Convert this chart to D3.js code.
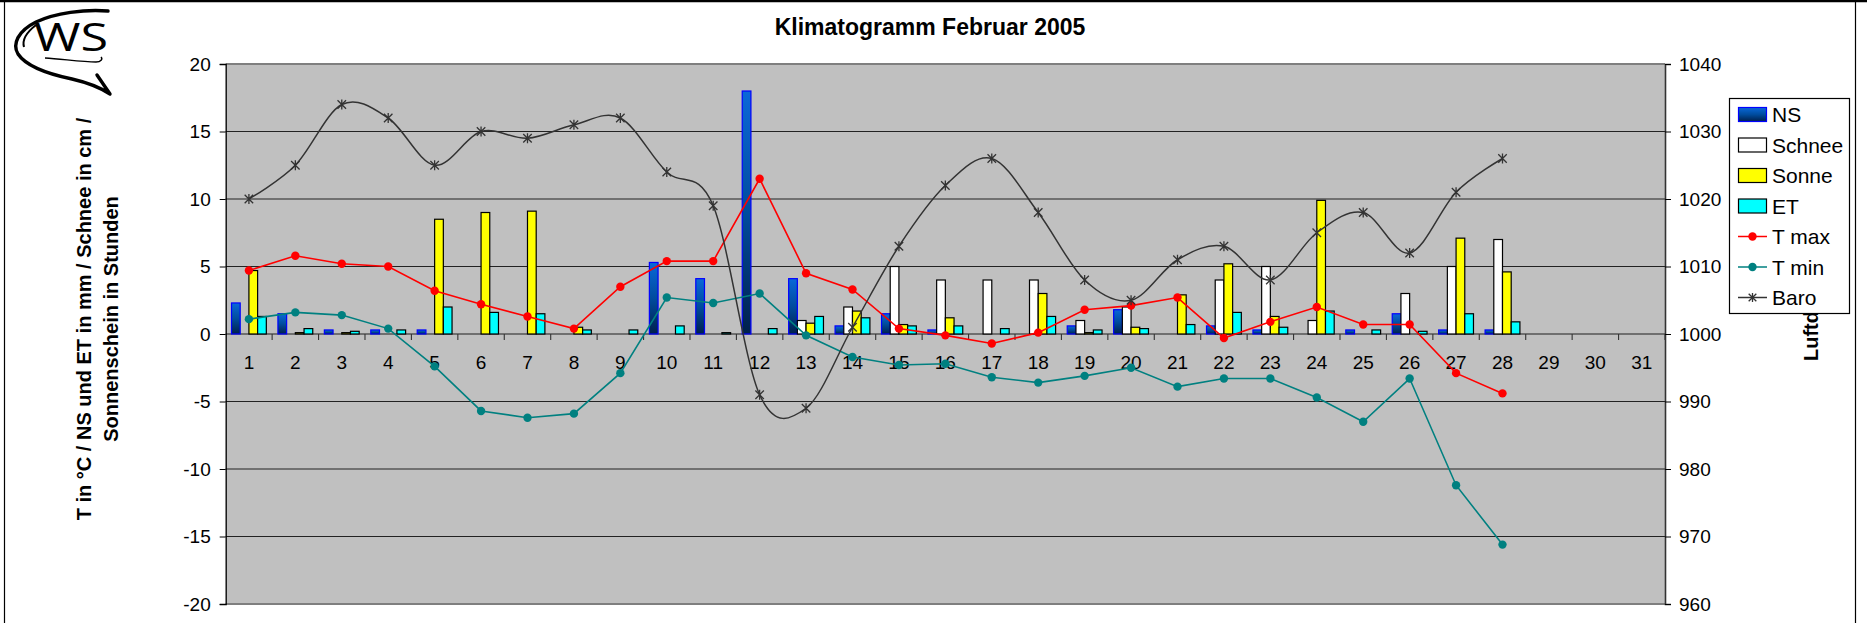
<!DOCTYPE html>
<html><head><meta charset="utf-8">
<script src="https://cdnjs.cloudflare.com/ajax/libs/d3/7.8.5/d3.min.js"></script>
<style>
html,body{margin:0;padding:0;background:#fff;}
svg{display:block;font-family:"Liberation Sans",Arial,sans-serif;}
</style></head>
<body><svg id="c" width="1867" height="623"></svg>
<script>
const days = ["1","2","3","4","5","6","7","8","9","10","11","12","13","14","15","16","17","18","19","20","21","22","23","24","25","26","27","28","29","30","31"];
const seriesNames = ["NS","Schnee","Sonne","ET"];
const NS     = [2.3,1.5,0.3,0.3,0.3,0,0,0,0,5.3,4.1,18.0,4.1,0.6,1.5,0.3,0,0,0.6,1.8,0,0.6,0.3,0,0.3,1.5,0.3,0.3];
const Schnee = [0,0,0,0,0,0,0,0,0,0,0,0,1,2,5,4,4,4,1,2,0,4,5,1,0,3,5,7];
const Sonne  = [4.7,0.1,0.1,0,8.5,9.0,9.1,0.5,0,0,0,0,0.8,1.7,0.7,1.2,0,3.0,0.1,0.5,2.9,5.2,1.3,9.9,0,0,7.1,4.6];
const ET     = [1.3,0.4,0.2,0.3,2.0,1.6,1.5,0.3,0.3,0.6,0.1,0.4,1.3,1.2,0.6,0.6,0.4,1.3,0.3,0.4,0.7,1.6,0.5,1.7,0.3,0.2,1.5,0.9];
const Tmax   = [4.7,5.8,5.2,5.0,3.2,2.2,1.3,0.4,3.5,5.4,5.4,11.5,4.5,3.3,0.4,-0.1,-0.7,0.1,1.8,2.1,2.7,-0.3,0.9,2.0,0.7,0.7,-2.9,-4.4];
const Tmin   = [1.1,1.6,1.4,0.4,-2.4,-5.7,-6.2,-5.9,-2.9,2.7,2.3,3.0,-0.1,-1.7,-2.3,-2.2,-3.2,-3.6,-3.1,-2.5,-3.9,-3.3,-3.3,-4.7,-6.5,-3.3,-11.2,-15.6];
const Baro   = [1020,1025,1034,1032,1025,1030,1029,1031,1032,1024,1019,991,989,1001,1013,1022,1026,1018,1008,1005,1011,1013,1008,1015,1018,1012,1021,1026];
const leftTicks  = [-20,-15,-10,-5,0,5,10,15,20];
const rightTicks = [960,970,980,990,1000,1010,1020,1030,1040];
const title = "Klimatogramm Februar 2005";
const yTitle1 = "T in °C / NS und ET in mm / Schnee in cm /";
const yTitle2 = "Sonnenschein in Stunden";
const y2Title = "Luftdruck in hPa";

const svg = d3.select("#c");
const L = 225.7, R = 1665, T = 64, B = 604;

const x = d3.scaleBand().domain(days).range([L, R]).padding(0);
const bw = x.bandwidth();
const xs = d3.scaleBand().domain(seriesNames).range([bw*0.125, bw*0.875]).padding(0);
const y = d3.scaleLinear().domain([-20,20]).range([B, T]);
const y2 = d3.scaleLinear().domain([960,1040]).range([B, T]);

const defs = svg.append("defs");
const g1 = defs.append("linearGradient").attr("id","nsGrad").attr("x1",0).attr("y1",0).attr("x2",0).attr("y2",1);
g1.append("stop").attr("offset","0%").attr("stop-color","#0a68d8");
g1.append("stop").attr("offset","50%").attr("stop-color","#004c9e");
g1.append("stop").attr("offset","100%").attr("stop-color","#00204c");

// outer border
svg.append("line").attr("x1",0).attr("x2",1867).attr("y1",1).attr("y2",1).attr("stroke","#000").attr("stroke-width",2.5);
svg.append("line").attr("x1",4.5).attr("x2",4.5).attr("y1",0).attr("y2",623).attr("stroke","#000").attr("stroke-width",1.2);
svg.append("line").attr("x1",1855.5).attr("x2",1855.5).attr("y1",0).attr("y2",623).attr("stroke","#000").attr("stroke-width",1.2);

// logo
const logo = svg.append("g");
logo.append("path").attr("d","M108,11 C85,9 55,13 36,22 C18,31 12,44 18,54 C26,66 48,74 72,79 C85,82 98,86 110,94 L97,75")
  .attr("fill","none").attr("stroke","#000").attr("stroke-width",3.4).attr("stroke-linejoin","round").attr("stroke-linecap","round");
logo.append("path").attr("d","M36,25 C27,32 22,40 24,47")
  .attr("fill","none").attr("stroke","#000").attr("stroke-width",2);
logo.append("path").attr("d","M45,58 C62,59 82,62 96,62 C101,62 103,59 101,57")
  .attr("fill","none").attr("stroke","#000").attr("stroke-width",1.4);
logo.append("text").attr("x",34).attr("y",51).attr("font-family","Open Sans, DejaVu Sans, sans-serif")
  .attr("font-size",39).attr("textLength",74).attr("lengthAdjust","spacingAndGlyphs").attr("fill","#000").text("WS");

// plot background
svg.append("rect").attr("x",L).attr("y",T).attr("width",R-L).attr("height",B-T).attr("fill","#c0c0c0");

// gridlines
svg.append("g").selectAll("line").data(leftTicks.filter(d=>d!==-20 && d!==20)).join("line")
  .attr("x1",L).attr("x2",R).attr("y1",d=>y(d)).attr("y2",d=>y(d))
  .attr("stroke",d=>d===0?"#555":"#222").attr("stroke-width",d=>d===0?1.6:1.1);
svg.append("line").attr("x1",L).attr("x2",R).attr("y1",T).attr("y2",T).attr("stroke","#7f7f7f").attr("stroke-width",1.8);
svg.append("line").attr("x1",L).attr("x2",R).attr("y1",B).attr("y2",B).attr("stroke","#7f7f7f").attr("stroke-width",1.8);

// category ticks
svg.append("g").selectAll("line").data(days).join("line")
  .attr("x1",(d,i)=>L+bw*(i+1)).attr("x2",(d,i)=>L+bw*(i+1))
  .attr("y1",y(0)).attr("y2",y(0)+6).attr("stroke","#333").attr("stroke-width",1.1);

// category labels
svg.append("g").selectAll("text").data(days).join("text")
  .attr("x",d=>x(d)+bw/2).attr("y",y(0)+35).attr("text-anchor","middle")
  .attr("font-size",19).attr("fill","#000").text(d=>d);

// bars
const barData = [];
const styles = {
  NS:{fill:"url(#nsGrad)",stroke:"#0000ff"},
  Schnee:{fill:"#ffffff",stroke:"#000"},
  Sonne:{fill:"#ffff00",stroke:"#000"},
  ET:{fill:"#00ffff",stroke:"#000"}
};
const seriesVals = {NS, Schnee, Sonne, ET};
seriesNames.forEach(s=>{
  seriesVals[s].forEach((v,i)=>{ if(v>0) barData.push({s, day:days[i], v}); });
});
svg.append("g").selectAll("rect").data(barData).join("rect")
  .attr("x",d=>x(d.day)+xs(d.s)).attr("width",xs.bandwidth())
  .attr("y",d=>y(d.v)).attr("height",d=>y(0)-y(d.v))
  .attr("fill",d=>styles[d.s].fill).attr("stroke",d=>styles[d.s].stroke).attr("stroke-width",1.2);

// lines
const cx = i => x(days[i]) + bw/2;
const lineT = d3.line().x((d,i)=>cx(i)).y(d=>y(d));
svg.append("path").attr("d",lineT(Tmax)).attr("fill","none").attr("stroke","#ff0000").attr("stroke-width",1.6);
svg.append("g").selectAll("circle").data(Tmax).join("circle")
  .attr("cx",(d,i)=>cx(i)).attr("cy",d=>y(d)).attr("r",4.2).attr("fill","#ff0000");
svg.append("path").attr("d",lineT(Tmin)).attr("fill","none").attr("stroke","#008080").attr("stroke-width",1.6);
svg.append("g").selectAll("circle").data(Tmin).join("circle")
  .attr("cx",(d,i)=>cx(i)).attr("cy",d=>y(d)).attr("r",4.2).attr("fill","#008080");

const lineB = d3.line().x((d,i)=>cx(i)).y(d=>y2(d)).curve(d3.curveCardinal.tension(0));
svg.append("path").attr("d",lineB(Baro)).attr("fill","none").attr("stroke","#333").attr("stroke-width",1.5);
const star = s => `M0,${-s}L0,${s}M${-s*0.85},${-s*0.85}L${s*0.85},${s*0.85}M${-s*0.85},${s*0.85}L${s*0.85},${-s*0.85}`;
svg.append("g").selectAll("path").data(Baro).join("path")
  .attr("transform",(d,i)=>`translate(${cx(i)},${y2(d)})`).attr("d",star(5))
  .attr("fill","none").attr("stroke","#333").attr("stroke-width",1.3);

// axes
const ax = svg.append("g").attr("transform",`translate(${L},0)`)
  .call(d3.axisLeft(y).tickValues(leftTicks).tickSize(6).tickPadding(9).tickFormat(d=>String(d)));
ax.select(".domain").attr("stroke","#000").attr("stroke-width",1.3);
ax.selectAll(".tick line").attr("stroke","#000");
ax.selectAll("text").attr("font-size",19).attr("font-family","Liberation Sans, Arial, sans-serif").attr("fill","#000");
const ax2 = svg.append("g").attr("transform",`translate(${R},0)`)
  .call(d3.axisRight(y2).tickValues(rightTicks).tickSize(6).tickPadding(8).tickFormat(d=>String(d)));
ax2.select(".domain").attr("stroke","#333").attr("stroke-width",1.6);
ax2.selectAll(".tick line").attr("stroke","#000");
ax2.selectAll("text").attr("font-size",19).attr("font-family","Liberation Sans, Arial, sans-serif").attr("fill","#000");

// titles
svg.append("text").attr("x",930).attr("y",35).attr("text-anchor","middle")
  .attr("font-size",23).attr("font-weight","bold").text(title);
svg.append("text").attr("transform","translate(91,319) rotate(-90)").attr("text-anchor","middle")
  .attr("font-size",20).attr("font-weight","bold").text(yTitle1);
svg.append("text").attr("transform","translate(118,319) rotate(-90)").attr("text-anchor","middle")
  .attr("font-size",20).attr("font-weight","bold").text(yTitle2);
svg.append("text").attr("transform","translate(1818,361) rotate(-90)").attr("text-anchor","start")
  .attr("font-size",20).attr("font-weight","bold").text(y2Title);

// legend
const lg = svg.append("g");
lg.append("rect").attr("x",1729.5).attr("y",98.5).attr("width",120).attr("height",215)
  .attr("fill","#fff").attr("stroke","#000").attr("stroke-width",1.2);
const legItems = [
  {name:"NS",type:"bar"},{name:"Schnee",type:"bar"},{name:"Sonne",type:"bar"},{name:"ET",type:"bar"},
  {name:"T max",type:"line",color:"#ff0000",m:"dot"},{name:"T min",type:"line",color:"#008080",m:"dot"},
  {name:"Baro",type:"line",color:"#333",m:"star"}
];
legItems.forEach((it,i)=>{
  const cy = 114.5 + i*30.5;
  const gI = lg.append("g");
  if(it.type==="bar"){
    gI.append("rect").attr("x",1738.5).attr("y",cy-7).attr("width",28).attr("height",14)
      .attr("fill",styles[it.name].fill).attr("stroke",styles[it.name].stroke).attr("stroke-width",1.2);
  } else {
    gI.append("line").attr("x1",1738).attr("x2",1767).attr("y1",cy).attr("y2",cy).attr("stroke",it.color).attr("stroke-width",1.5);
    if(it.m==="dot") gI.append("circle").attr("cx",1752.5).attr("cy",cy).attr("r",4.2).attr("fill",it.color);
    else gI.append("path").attr("transform",`translate(1752.5,${cy})`).attr("d",star(4.5)).attr("fill","none").attr("stroke",it.color).attr("stroke-width",1.3);
  }
  gI.append("text").attr("x",1772).attr("y",cy+7.5).attr("font-size",21).attr("fill","#000").text(it.name);
});
</script></body></html>
